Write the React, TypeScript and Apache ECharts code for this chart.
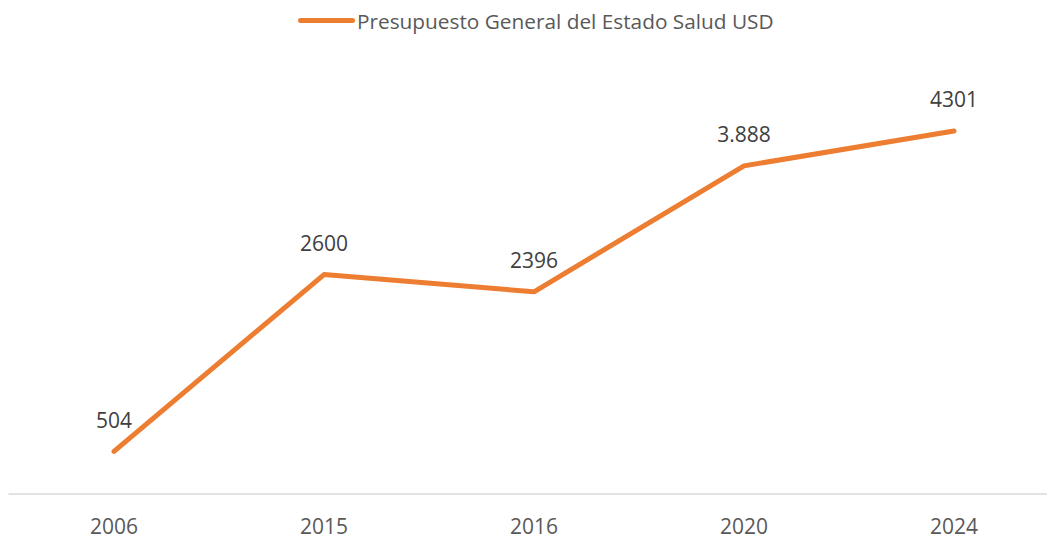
import React, { useEffect, useRef } from "react";
import * as echarts from "echarts";

const categories = ["2006", "2015", "2016", "2020", "2024"];
const values = [504, 2600, 2396, 3888, 4301];
const labelTexts = ["504", "2600", "2396", "3.888", "4301"];
const seriesName = "Presupuesto General del Estado Salud USD";

export default function App() {
  const ref = useRef<HTMLDivElement>(null);
  useEffect(() => {
    if (!ref.current) return;
    const chart = echarts.init(ref.current, undefined, { renderer: "svg" });
    const font = "'Open Sans', 'Noto Sans', sans-serif";
    chart.setOption({
      animation: false,
      textStyle: { fontFamily: font },
      legend: {
        left: 293,
        top: 5,
        itemWidth: 57,
        itemHeight: 5,
        itemGap: 0,
        icon: "path://M2.5,0 L54.5,0 A2.5,2.5 0 0 1 54.5,5 L2.5,5 A2.5,2.5 0 0 1 2.5,0 Z",
        textStyle: { color: "#595959", fontSize: 20.8, fontFamily: font, padding: [0, 0, 0, -3] },
        data: [seriesName],
      },
      grid: { left: 9, right: 0, top: 72, bottom: 42 },
      xAxis: {
        type: "category",
        data: categories,
        boundaryGap: true,
        axisLine: { show: true, lineStyle: { color: "#d9d9d9", width: 1.5 } },
        axisTick: { show: false },
        axisLabel: { color: "#595959", fontSize: 21, lineHeight: 21, fontFamily: font, margin: 21 },
      },
      yAxis: {
        type: "value",
        min: 0,
        max: 5000,
        show: false,
        splitLine: { show: false },
      },
      series: [
        {
          name: seriesName,
          type: "line",
          data: values,
          showSymbol: true,
          symbol: "circle",
          symbolSize: 0.1,
          itemStyle: { color: "#ED7D31" },
          lineStyle: { color: "#ED7D31", width: 5, cap: "round", join: "round" },
          label: {
            show: true,
            position: "top",
            distance: 21,
            color: "#404040",
            fontSize: 21,
            fontFamily: font,
            formatter: (p: any) => labelTexts[p.dataIndex],
          },
        },
      ],
    });
    return () => chart.dispose();
  }, []);
  return (
    <div style={{ position: "absolute", left: 0, top: 0, width: 1047, height: 536, overflow: "hidden", background: "#fff" }}>
      <div ref={ref} style={{ width: 1059, height: 536 }} />
    </div>
  );
}
